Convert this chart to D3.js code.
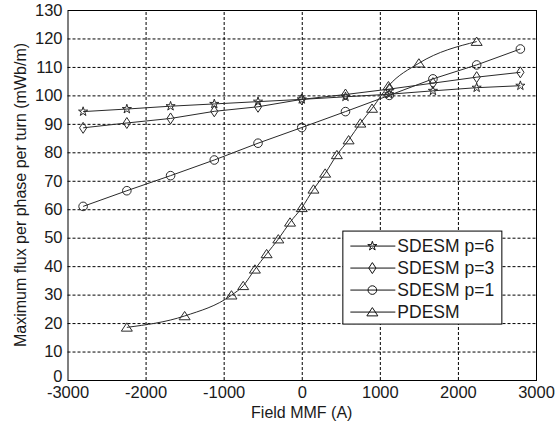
<!DOCTYPE html>
<html lang="en">
<head>
  <meta charset="UTF-8" />
  <title>Maximum flux per phase per turn vs Field MMF</title>
  <script src="https://unpkg.com/d3@7/dist/d3.min.js"></script>
  <style>
    body {
      margin: 0;
      background: #fff;
      font-family: "Liberation Sans", Arial, sans-serif;
    }
    svg { display: block; }
    .axis text {
      font-size: 16.5px;
      fill: #1a1a1a;
    }
    .axis path { display: none; }
    .grid line {
      stroke: #000;
      stroke-dasharray: 3,2;
    }
  </style>
</head>
<body>
  <svg id="chart" width="555" height="432"></svg>

  <script>
  // shared field MMF values for the SDESM runs
  const mmf = [-2800, -2240, -1680, -1120, -560, 0, 560, 1120, 1680, 2240, 2800];
  const sdesmP6 = [94.3, 95.2, 96.2, 97.0, 97.8, 98.6, 99.5, 100.4, 101.6, 102.7, 103.4];
  const sdesmP3 = [88.6, 90.3, 91.9, 94.4, 96.0, 98.6, 100.3, 102.2, 104.3, 106.4, 108.1];
  const sdesmP1 = [61.0, 66.5, 71.8, 77.3, 83.2, 88.7, 94.3, 100.0, 105.8, 110.7, 116.3];

  const pdesmMmf  = [-2240, -1500, -900, -750, -600, -450, -300, -150, 0, 150, 300, 450, 600, 750, 900, 1110, 1500, 2240];
  const pdesmFlux = [18.5, 22.5, 29.8, 33.1, 38.9, 44.3, 49.5, 55.4, 60.5, 67.0, 72.6, 79.1, 84.3, 90.2, 95.4, 103.3, 111.3, 118.9];

  const xTicks = [-3000, -2000, -1000, 0, 1000, 2000, 3000];
  const yTicks = [0, 10, 20, 30, 40, 50, 60, 70, 80, 90, 100, 110, 120, 130];

  const seriesNames = ["SDESM p=6", "SDESM p=3", "SDESM p=1", "PDESM"];

  // marker shapes, drawn unfilled like the original
  const markerPath = {
    "SDESM p=6": d3.symbol(d3.symbolStar, 26)(),
    "SDESM p=3": "M0,-5.5L3.6,0L0,5.5L-3.6,0Z",
    "SDESM p=1": d3.symbol(d3.symbolCircle, 58)(),
    "PDESM": "M0,-4.5L5.5,3.8L-5.5,3.8Z"
  };

  const series = [
    { name: seriesNames[0], pts: mmf.map((x, i) => ({ x, y: sdesmP6[i] })), curve: d3.curveLinear },
    { name: seriesNames[1], pts: mmf.map((x, i) => ({ x, y: sdesmP3[i] })), curve: d3.curveLinear },
    { name: seriesNames[2], pts: mmf.map((x, i) => ({ x, y: sdesmP1[i] })), curve: d3.curveLinear },
    { name: seriesNames[3], pts: pdesmMmf.map((x, i) => ({ x, y: pdesmFlux[i] })), curve: d3.curveMonotoneX }
  ];

  const svg = d3.select("#chart");
  const margin = { top: 10, right: 19, bottom: 52, left: 67.5 };
  const width  = 555 - margin.left - margin.right;
  const height = 432 - margin.top - margin.bottom;

  const chart = svg.append("g")
      .attr("transform", `translate(${margin.left},${margin.top})`);

  const x = d3.scaleLinear().domain([-3000, 3000]).range([0, width]);
  const y = d3.scaleLinear().domain([0, 130]).range([height, 0]);

  chart.append("g")
      .attr("class", "axis grid")
      .attr("transform", `translate(0,${height})`)
      .call(d3.axisBottom(x).tickValues(xTicks).tickFormat(d => String(d))
              .tickSizeInner(-height).tickSizeOuter(0).tickPadding(6))
      .call(g => g.selectAll(".tick line").filter(d => d === -3000 || d === 3000).remove());

  chart.append("g")
      .attr("class", "axis grid")
      .call(d3.axisLeft(y).tickValues(yTicks).tickFormat(d => String(d))
              .tickSizeInner(-width).tickSizeOuter(0).tickPadding(5))
      .call(g => g.selectAll(".tick line").filter(d => d === 0 || d === 130).remove())
      // the "0" sits just above "-3000" in the original, nudge it clear
      .call(g => g.selectAll(".tick text").filter(d => d === 0).attr("dy", "0.1em"));

  chart.append("rect")
      .attr("x", 0.5).attr("y", 0.5)
      .attr("width", width).attr("height", height)
      .attr("fill", "none")
      .attr("stroke", "#000");

  const line = c => d3.line().x(d => x(d.x)).y(d => y(d.y)).curve(c);

  series.forEach(s => {
    chart.append("path")
        .datum(s.pts)
        .attr("fill", "none")
        .attr("stroke", "#2a2a2a")
        .attr("stroke-width", 1)
        .attr("d", line(s.curve));

    chart.selectAll(null)
      .data(s.pts)
      .join("path")
        .attr("transform", d => `translate(${x(d.x)},${y(d.y)})`)
        .attr("d", markerPath[s.name])
        .attr("fill", "none")
        .attr("stroke", "#2a2a2a")
        .attr("stroke-width", 1);
  });

  // legend
  const legend = chart.append("g")
      .attr("transform", `translate(${x(520)},${y(52.5)})`);

  legend.append("rect")
      .attr("x", 0.5).attr("y", 0.5)
      .attr("width", 159).attr("height", 93)
      .attr("fill", "#fff")
      .attr("stroke", "#000");

  seriesNames.forEach((name, i) => {
    const ly = 15.5 + i * 22;
    legend.append("line")
        .attr("x1", 8).attr("x2", 53)
        .attr("y1", ly).attr("y2", ly)
        .attr("stroke", "#111");
    legend.append("path")
        .attr("transform", `translate(30,${ly})`)
        .attr("d", markerPath[name])
        .attr("fill", "none")
        .attr("stroke", "#111");
    legend.append("text")
        .attr("x", 55)
        .attr("y", ly)
        .attr("dy", "0.35em")
        .style("font-size", "17.5px")
        .style("fill", "#1a1a1a")
        .text(name);
  });

  svg.append("text")
      .attr("x", margin.left + width / 2)
      .attr("y", 418)
      .attr("text-anchor", "middle")
      .style("font-size", "16px")
      .style("fill", "#1a1a1a")
      .text("Field MMF (A)");

  svg.append("text")
      .attr("transform", "rotate(-90)")
      .attr("x", -(margin.top + height / 2))
      .attr("y", 26)
      .attr("text-anchor", "middle")
      .style("font-size", "16px")
      .style("fill", "#1a1a1a")
      .text("Maximum flux per phase per turn (mWb/m)");
  </script>
</body>
</html>
